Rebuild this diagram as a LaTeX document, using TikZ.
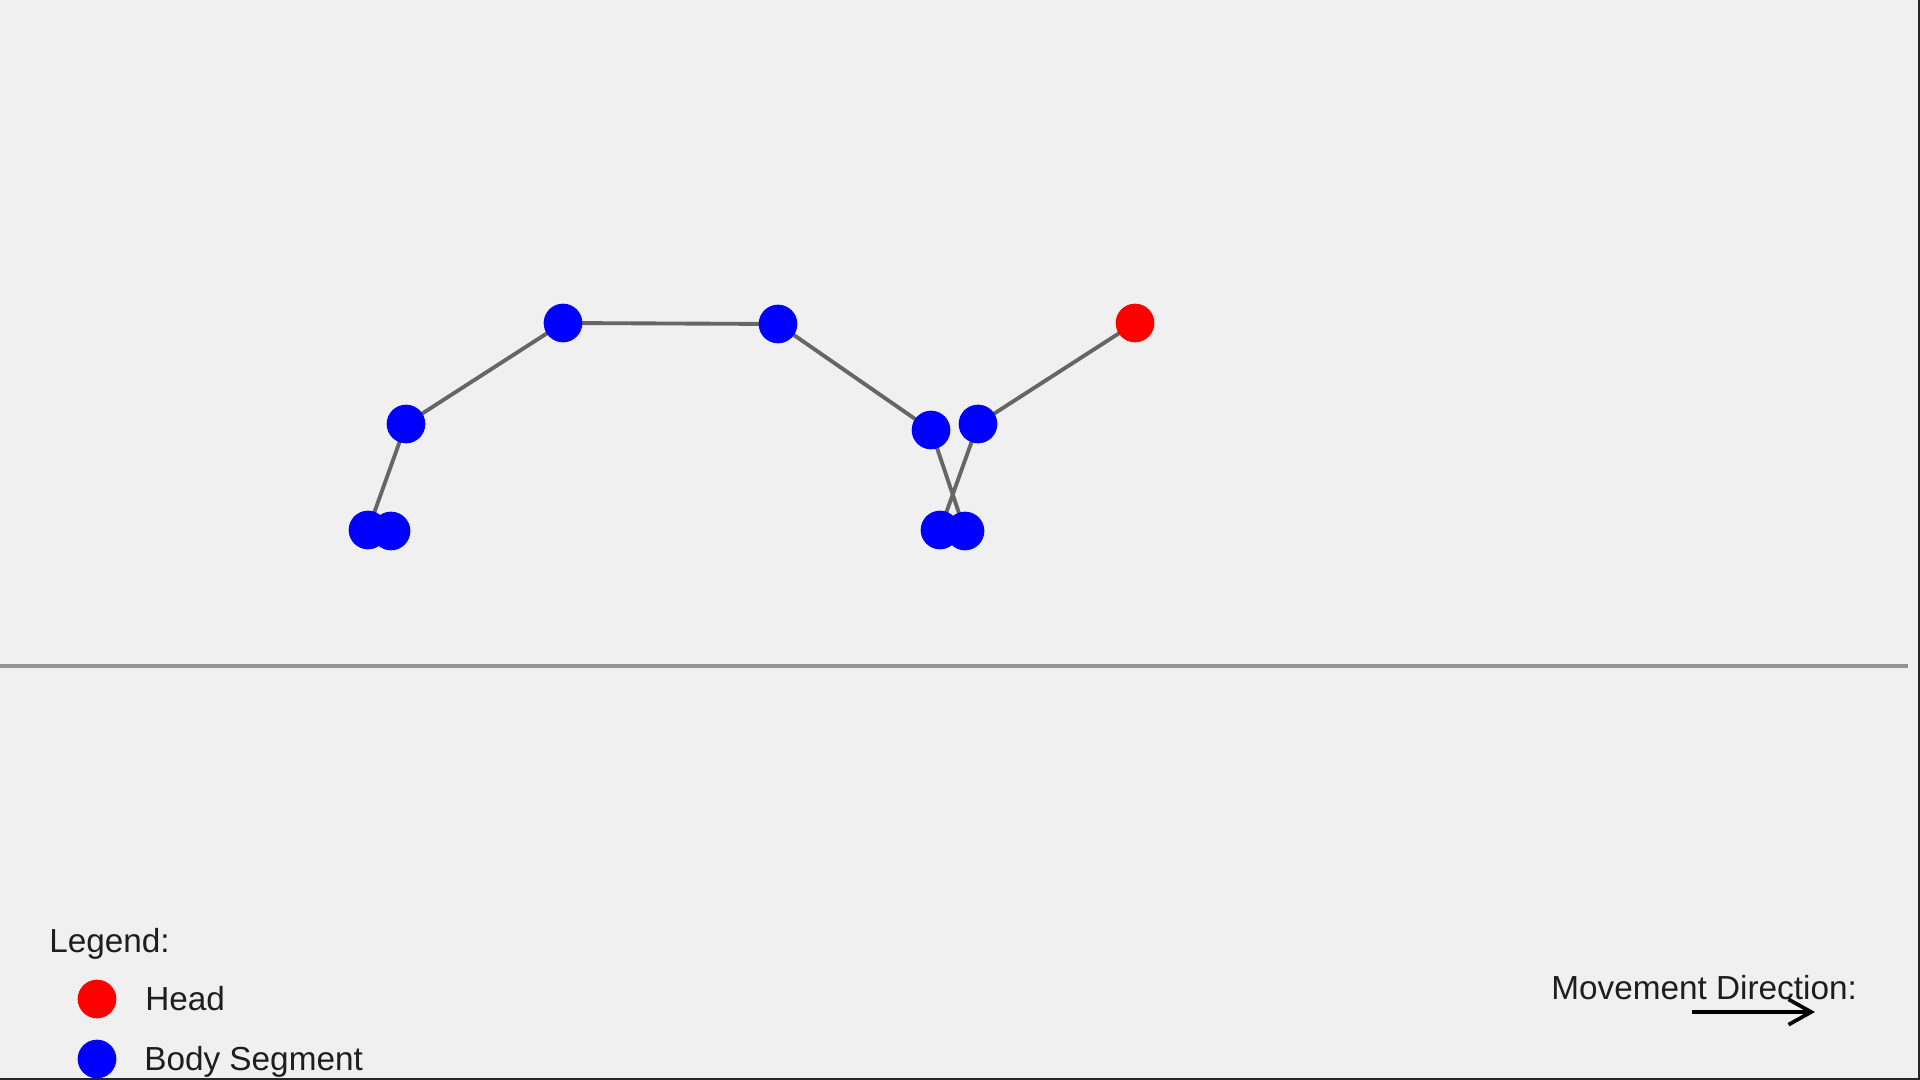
\documentclass[tikz,border=0pt]{standalone}
\usepackage{fontspec}
\setmainfont{Liberation Sans}
\usetikzlibrary{arrows.meta}
\definecolor{bgcol}{HTML}{F0F0F0}
\definecolor{linkcol}{HTML}{666666}
\definecolor{groundcol}{HTML}{949494}
\definecolor{txtcol}{HTML}{1E1E1E}
\begin{document}
\begin{tikzpicture}[x=0.75pt,y=-0.75pt,
  seg/.style={circle,fill=blue,inner sep=0pt,minimum size=29pt},
  head/.style={seg,fill=red},
  link/.style={draw=linkcol,line width=2.9pt},
  lbl/.style={anchor=base west,inner sep=0pt,text=txtcol,font=\fontsize{25}{30}\selectfont}]
  \useasboundingbox (0,0) rectangle (1920,1080);
  \fill[bgcol] (0,0) rectangle (1920,1080);
  \fill[black!85] (1918,0) rectangle (1920,1080);
  \fill[black!85] (0,1078) rectangle (1920,1080);
  \draw[groundcol,line width=2.8pt] (0,666) -- (1908,666);
  \coordinate (h) at (1135,323);
  \coordinate (s1) at (978,424);
  \coordinate (s2) at (940,530);
  \coordinate (s3) at (965,531);
  \coordinate (s4) at (931,430);
  \coordinate (s5) at (778,324);
  \coordinate (s6) at (563,323);
  \coordinate (s7) at (406,424);
  \coordinate (s8) at (368,530);
  \coordinate (s9) at (391,531);
  \draw[link] (h) -- (s1) -- (s2) -- (s3) -- (s4) -- (s5) -- (s6) -- (s7) -- (s8) -- (s9);
  \node (hd) at (h) [head] {};
  \foreach \i in {1,...,9}
    \node (b\i) at (s\i) [seg] {};
  \node (leg) at (49,952) [lbl] {Legend:};
  \node (legh) at (97,999) [head] {};
  \node (leghtxt) at (145,1010) [lbl] {Head};
  \node (legb) at (97,1059) [seg] {};
  \node (legbtxt) at (144,1070) [lbl] {Body Segment};
  \node (mov) at (1551,999) [lbl] {Movement Direction:};
  \coordinate (arrs) at (1692,1012);
  \coordinate (arre) at (1815,1012);
  \draw[-{Straight Barb[length=17pt,width=19pt]},line width=2.8pt] (arrs) -- (arre);
\end{tikzpicture}
\end{document}
